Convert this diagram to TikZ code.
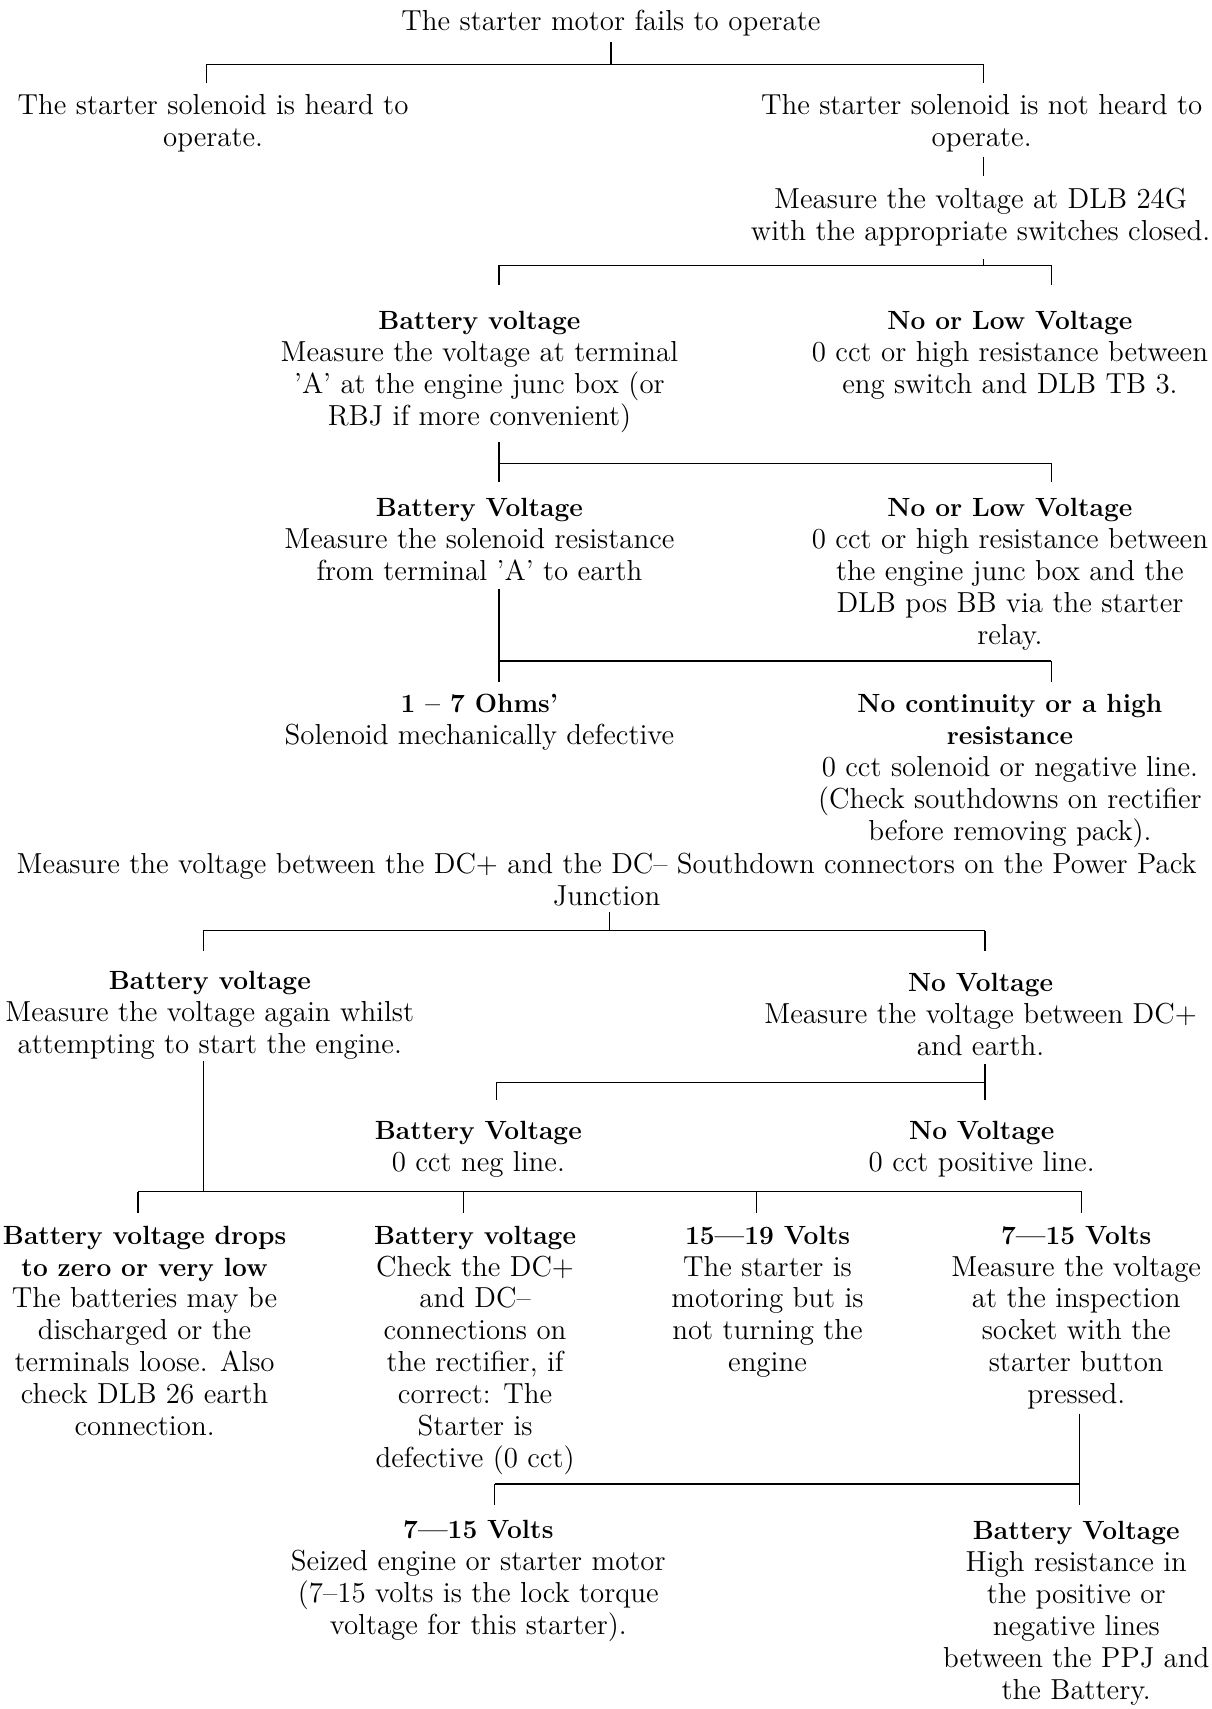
\documentclass[tikz,border=0pt]{standalone}
\newcommand{\hd}{\fontsize{13.2}{16}\selectfont\bfseries}
\newcommand{\ts}{\rule{0pt}{11.2pt}}
\tikzset{
  box/.style={anchor=north, align=center, inner sep=0pt, font=\fontsize{14.5}{16}\selectfont,
    execute at end node=\strut},
  wire/.style={draw, line width=0.6pt},
}
\begin{document}
\begin{tikzpicture}[x=0.5449pt, y=-0.5449pt]
\fill[white] (0,0) rectangle (1114,1568);

\node[box] (n1) at (562,7.5) {\ts The starter motor fails to operate};
\node[box] (n2L) at (196,84.5) {\ts The starter solenoid is heard to\\operate.};
\node[box] (n2R) at (903,84.5) {\ts The starter solenoid is not heard to\\operate.};
\node[box] (n3) at (902,170.5) {\ts Measure the voltage at DLB 24G\\with the appropriate switches closed.};
\node[box] (n4L) at (441,282.5) {\ts{\hd Battery voltage}\\Measure the voltage at terminal\\'A' at the engine junc box (or\\RBJ if more convenient)};
\node[box] (n4R) at (929,282.5) {\ts{\hd No or Low Voltage}\\0 cct or high resistance between\\eng switch and DLB TB 3.};
\node[box] (n5L) at (441,454.5) {\ts{\hd Battery Voltage}\\Measure the solenoid resistance\\from terminal 'A' to earth};
\node[box] (n5R) at (929,454.5) {\ts{\hd No or Low Voltage}\\0 cct or high resistance between\\the engine junc box and the\\DLB pos BB via the starter\\relay.};
\node[box] (n6L) at (441,634.5) {\ts{\hd 1 -- 7 Ohms'}\\Solenoid mechanically defective};
\node[box] (n6R) at (929,634.5) {\ts{\hd No continuity or a high}\\{\hd resistance}\\0 cct solenoid or negative line.\\(Check southdowns on rectifier\\before removing pack).};
\node[box] (n7) at (558,782.5) {\ts Measure the voltage between the DC+ and the DC-- Southdown connectors on the Power Pack\\Junction};
\node[box] (n8L) at (193,889.5) {\ts{\hd Battery voltage}\\Measure the voltage again whilst\\attempting to start the engine.};
\node[box] (n8R) at (902,891.5) {\ts{\hd No Voltage}\\Measure the voltage between DC+\\and earth.};
\node[box] (n9L) at (440,1027.5) {\ts{\hd Battery Voltage}\\0 cct neg line.};
\node[box] (n9R) at (903,1027.5) {\ts{\hd No Voltage}\\0 cct positive line.};
\node[box] (n10a) at (133,1123.5) {\ts{\hd Battery voltage drops}\\{\hd to zero or very low}\\The batteries may be\\discharged or the\\terminals loose. Also\\check DLB 26 earth\\connection.};
\node[box] (n10b) at (437,1123.5) {\ts{\hd Battery voltage}\\Check the DC+\\and DC--\\connections on\\the rectifier, if\\correct: The\\Starter is\\defective (0 cct)};
\node[box] (n10c) at (706,1123.5) {\ts{\hd 15---19 Volts}\\The starter is\\motoring but is\\not turning the\\engine};
\node[box] (n10d) at (990,1123.5) {\ts{\hd 7---15 Volts}\\Measure the voltage\\at the inspection\\socket with the\\starter button\\pressed.};
\node[box] (n11L) at (440,1394.5) {\ts{\hd 7---15 Volts}\\Seized engine or starter motor\\(7--15 volts is the lock torque\\voltage for this starter).};
\node[box] (n11R) at (990,1395.5) {\ts{\hd Battery Voltage}\\High resistance in\\the positive or\\negative lines\\between the PPJ and\\the Battery.};

% A
\coordinate (aL) at (190,59); \coordinate (aR) at (905,59);
\draw[wire, shorten <=0.6pt] (n1.south) -- (n1.south |- aL);
\draw[wire] (aL) -- (aR);
\draw[wire, shorten >=4.6pt] (aL) -- (aL |- n2L.north);
\draw[wire, shorten >=4.6pt] (aR) -- (aR |- n2R.north);
% B
\draw[wire, shorten >=4.6pt] (n2R.south -| aR) -- (n3.north -| aR);
% C
\coordinate (cL) at (459,244); \coordinate (cR) at (967,244);
\draw[wire, shorten <=4.5pt] (n3.south -| aR) -- (cL -| aR);
\draw[wire] (cL) -- (cR);
\draw[wire, shorten >=11.2pt] (cL) -- (cL |- n4L.north);
\draw[wire, shorten >=11.2pt] (cR) -- (cR |- n4R.north);
% D
\coordinate (dR) at (967,426);
\draw[wire, shorten <=3.1pt, shorten >=6pt] (n4L.south -| cL) -- (n5L.north -| cL);
\draw[wire] (dR -| cL) -- (dR);
\draw[wire, shorten >=6pt] (dR) -- (dR |- n5R.north);
% E
\coordinate (eR) at (967,608);
\draw[wire, shorten <=-1pt, shorten >=4.1pt] (n5L.south -| cL) -- (n6L.north -| cL);
\draw[wire] (eR -| cL) -- (eR);
\draw[wire, shorten >=4.1pt] (eR) -- (eR |- n6R.north);
% F
\coordinate (fL) at (187,856); \coordinate (fR) at (906,856); \coordinate (fM) at (561,856);
\draw[wire, shorten <=-1.5pt] (n7.south -| fM) -- (fM);
\draw[wire] (fL) -- (fR);
\draw[wire, shorten >=8.2pt] (fL) -- (fL |- n8L.north);
\draw[wire, shorten >=9.3pt] (fR) -- (fR |- n8R.north);
% G
\coordinate (hA) at (127,1096); \coordinate (hB) at (426.5,1096);
\coordinate (hC) at (695.5,1096); \coordinate (hD) at (995,1096);
\draw[wire, shorten <=-1.2pt] (n8L.south -| fL) -- (hA -| fL);
\draw[wire] (hA) -- (hD);
\draw[wire, shorten >=4.1pt] (hA) -- (hA |- n10a.north);
\draw[wire, shorten >=4.1pt] (hB) -- (hB |- n10b.north);
\draw[wire, shorten >=4.1pt] (hC) -- (hC |- n10c.north);
\draw[wire, shorten >=4.1pt] (hD) -- (hD |- n10d.north);
% I
\coordinate (iL) at (456.5,995.6);
\draw[wire, shorten <=-1pt, shorten >=8.4pt] (n8R.south -| fR) -- (n9R.north -| fR);
\draw[wire] (iL) -- (iL -| fR);
\draw[wire, shorten >=8.4pt] (iL) -- (iL |- n9L.north);
% J
\coordinate (jL) at (455,1365); \coordinate (jR) at (993,1365);
\draw[wire, shorten >=6.3pt] (n10d.south -| jR) -- (n11R.north -| jR);
\draw[wire] (jL) -- (jR);
\draw[wire, shorten >=5.7pt] (jL) -- (jL |- n11L.north);
\end{tikzpicture}
\end{document}
